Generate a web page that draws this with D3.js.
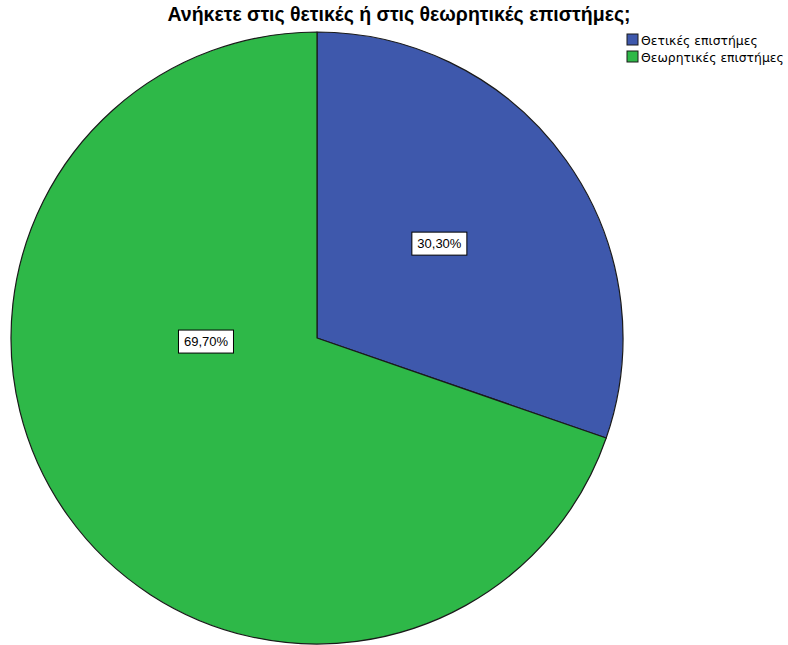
<!DOCTYPE html>
<html>
<head>
<meta charset="utf-8">
<script src="https://cdn.jsdelivr.net/npm/d3@7"></script>
<style>
  html, body { margin: 0; padding: 0; background: #fff; }
  svg { display: block; }
</style>
</head>
<body>
<script>
// Survey answers: share of respondents per field of study
const categories = ["Θετικές επιστήμες", "Θεωρητικές επιστήμες"];
const values = [30.30, 69.70];
const valueLabels = ["30,30%", "69,70%"];
const colors = ["#3E58AC", "#2EB848"];
const title = "Ανήκετε στις θετικές ή στις θεωρητικές επιστήμες;";

const W = 788, H = 645;
const cx = 317, cy = 338, R = 306;

const svg = d3.select("body").append("svg")
  .attr("width", W).attr("height", H);

svg.append("text")
  .attr("x", 399).attr("y", 21)
  .attr("text-anchor", "middle")
  .attr("font-family", "Liberation Sans, Arial, sans-serif")
  .attr("font-weight", "bold")
  .attr("font-size", 19.5)
  .attr("fill", "#000")
  .text(title);

const pie = d3.pie().sort(null).value(d => d);
const arcs = pie(values);
const arc = d3.arc().innerRadius(0).outerRadius(R);

const g = svg.append("g").attr("transform", `translate(${cx},${cy})`);

g.selectAll("path.slice")
  .data(arcs)
  .join("path")
  .attr("class", "slice")
  .attr("d", arc)
  .attr("fill", (d, i) => colors[i])
  .attr("stroke", "#1a1a1a")
  .attr("stroke-width", 1.2)
  .attr("stroke-linejoin", "round");

// Label anchor inside each slice: fraction along the slice's sweep and fraction of the radius
const labelPlacement = [
  { along: 0.48, radius: 0.505 },
  { along: 0.634, radius: 0.363 }
];
function labelPoint(d, i) {
  const p = labelPlacement[i];
  const a = d.startAngle + (d.endAngle - d.startAngle) * p.along;
  const r = R * p.radius;
  return [Math.sin(a) * r, -Math.cos(a) * r];
}

const lbl = g.selectAll("g.lbl")
  .data(arcs)
  .join("g")
  .attr("class", "lbl")
  .attr("transform", (d, i) => {
    const p = labelPoint(d, i);
    return `translate(${p[0]},${p[1]})`;
  });

lbl.append("rect")
  .attr("x", -27.5).attr("y", -11.5)
  .attr("width", 55).attr("height", 23)
  .attr("fill", "#fff")
  .attr("stroke", "#000")
  .attr("stroke-width", 1);

lbl.append("text")
  .attr("text-anchor", "middle")
  .attr("dy", "0.36em")
  .attr("font-family", "Liberation Sans, Arial, sans-serif")
  .attr("font-size", 13)
  .attr("fill", "#000")
  .text((d, i) => valueLabels[i]);

// Legend
const legend = svg.append("g").attr("transform", "translate(627,34)");
const item = legend.selectAll("g")
  .data(categories)
  .join("g")
  .attr("transform", (d, i) => `translate(0,${i * 17})`);

item.append("rect")
  .attr("width", 11).attr("height", 11)
  .attr("fill", (d, i) => colors[i])
  .attr("stroke", "#1a1a1a")
  .attr("stroke-width", 1);

item.append("text")
  .attr("x", 14).attr("y", 10.5)
  .attr("font-family", "DejaVu Sans, Verdana, sans-serif")
  .attr("font-size", 12.4)
  .attr("fill", "#000")
  .text(d => d);
</script>
</body>
</html>
